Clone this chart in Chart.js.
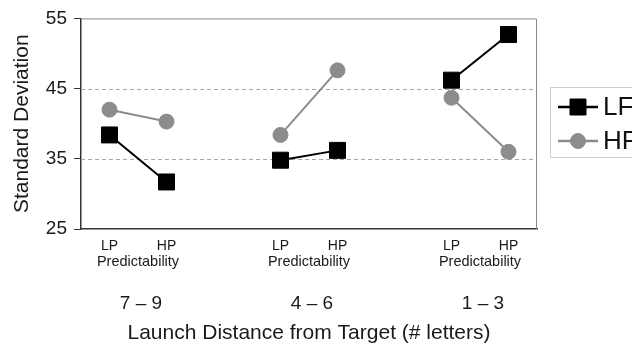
<!DOCTYPE html>
<html>
<head>
<meta charset="utf-8">
<script src="https://cdn.jsdelivr.net/npm/chart.js@4/dist/chart.umd.min.js"></script>
<style>
  html, body { margin: 0; padding: 0; background: #fff; }
  #wrap { width: 632px; height: 346px; }
</style>
</head>
<body>
<div id="wrap"><canvas id="c" width="632" height="346"></canvas></div>
<script>
// Standard deviation by launch distance, predictability and frequency.

const FONT = '"Liberation Sans", Arial, Helvetica, sans-serif';

const conditionPos = [1, 2, 4, 5, 7, 8];
const conditionLabels = ['LP', 'HP', 'LP', 'HP', 'LP', 'HP'];
const groupPos = [1.5, 4.5, 7.5];
const groupLabels = ['7 \u2013 9', '4 \u2013 6', '1 \u2013 3'];
const groupSubLabel = 'Predictability';
const lfValues = [38.4, 31.7, 34.8, 36.2, 46.2, 52.7];
const hfValues = [42.0, 40.3, 38.4, 47.6, 43.7, 36.0];
const yTicks = [25, 35, 45, 55];
const dashedGrid = [35, 45];

// pairs joined within a group, broken between groups
function pairs(vals) {
  const out = [];
  for (let i = 0; i < vals.length; i++) {
    if (i > 0 && i % 2 === 0) out.push({ x: (conditionPos[i - 1] + conditionPos[i]) / 2, y: null });
    out.push({ x: conditionPos[i], y: vals[i] });
  }
  return out;
}

const framePlugin = {
  id: 'frame',
  beforeDatasetsDraw(chart) {
    const { ctx, chartArea: a } = chart;
    const y = chart.scales.y;
    ctx.save();
    ctx.strokeStyle = '#a8a8a8';
    ctx.lineWidth = 1;
    ctx.setLineDash([4, 3]);
    for (const v of dashedGrid) {
      const py = Math.round(y.getPixelForValue(v)) + 0.5;
      ctx.beginPath(); ctx.moveTo(a.left, py); ctx.lineTo(a.right, py); ctx.stroke();
    }
    ctx.setLineDash([]);
    ctx.strokeStyle = '#8a8a8a';
    ctx.beginPath();
    ctx.moveTo(a.left, a.top + 0.5); ctx.lineTo(a.right - 0.5, a.top + 0.5);
    ctx.lineTo(a.right - 0.5, a.bottom);
    ctx.stroke();
    ctx.restore();
  },
  afterDraw(chart) {
    const { ctx } = chart;
    const x = chart.scales.x;
    ctx.save();
    ctx.fillStyle = '#1a1a1a';
    ctx.textAlign = 'center';
    ctx.textBaseline = 'middle';
    ctx.font = '14.5px ' + FONT;
    for (const g of groupPos) ctx.fillText(groupSubLabel, x.getPixelForValue(g), 262);
    ctx.font = '19px ' + FONT;
    groupPos.forEach((g, i) => ctx.fillText(groupLabels[i], x.getPixelForValue(g) + 3, 304));

    // legend
    ctx.strokeStyle = '#cfcfcf';
    ctx.lineWidth = 1;
    ctx.strokeRect(550.5, 87.5, 100, 70);
    const rows = [107, 141];
    chart.data.datasets.forEach((ds, i) => {
      const yy = rows[i];
      ctx.strokeStyle = ds.borderColor;
      ctx.lineWidth = 2.5;
      ctx.beginPath(); ctx.moveTo(558, yy); ctx.lineTo(598, yy); ctx.stroke();
      ctx.fillStyle = ds.pointBackgroundColor;
      ctx.strokeStyle = ds.pointBorderColor;
      ctx.lineWidth = 1;
      Chart.helpers.drawPoint(ctx, { pointStyle: ds.pointStyle, radius: ds.pointRadius, borderWidth: 1 }, 578, yy);
      ctx.fillStyle = '#111';
      ctx.font = '26px ' + FONT;
      ctx.textAlign = 'left';
      ctx.fillText(ds.label, 603, yy + 1);
    });
    ctx.restore();
  },
};

new Chart(document.getElementById('c'), {
  type: 'line',
  data: {
    datasets: [
      {
        label: 'LF', data: pairs(lfValues),
        borderColor: '#000', borderWidth: 2,
        pointStyle: 'rect', pointRadius: 11.3,
        pointBackgroundColor: '#000', pointBorderColor: '#000', pointBorderWidth: 1,
        spanGaps: false, tension: 0,
      },
      {
        label: 'HF', data: pairs(hfValues),
        borderColor: '#8c8c8c', borderWidth: 2,
        pointStyle: 'circle', pointRadius: 7.5,
        pointBackgroundColor: '#8c8c8c', pointBorderColor: '#8c8c8c', pointBorderWidth: 1,
        spanGaps: false, tension: 0,
      },
    ],
  },
  options: {
    responsive: false, animation: false,
    layout: { padding: { top: 17, right: 95, left: 0, bottom: 0 } },
    scales: {
      x: {
        type: 'linear', min: 0.5, max: 8.5,
        afterBuildTicks: (s) => { s.ticks = conditionPos.map(v => ({ value: v })); },
        afterFit: (s) => { s.height = 117; },
        ticks: {
          color: '#1a1a1a', font: { family: FONT, size: 14 }, padding: 9, maxRotation: 0,
          callback: (v) => { const i = conditionPos.indexOf(v); return i >= 0 ? conditionLabels[i] : ''; },
        },
        grid: { display: false, drawTicks: false },
        border: { display: true, color: '#333', width: 1.5 },
        title: { display: true, text: 'Launch Distance from Target (# letters)', color: '#1a1a1a',
                 font: { family: FONT, size: 21 }, padding: { top: 0, bottom: 0 } },
      },
      y: {
        min: 25, max: 55,
        afterBuildTicks: (s) => { s.ticks = yTicks.map(v => ({ value: v })); },
        afterFit: (s) => { s.width = 81; },
        ticks: { color: '#1a1a1a', font: { family: FONT, size: 19 }, padding: 7 },
        grid: { drawOnChartArea: false, drawTicks: true, tickLength: 7, tickColor: '#333', tickWidth: 1 },
        border: { display: true, color: '#333', width: 1.5 },
        title: { display: true, text: 'Standard Deviation', color: '#1a1a1a',
                 font: { family: FONT, size: 21 }, padding: { top: 10, bottom: 0 } },
      },
    },
    plugins: { legend: { display: false }, tooltip: { enabled: false } },
  },
  plugins: [framePlugin],
});
</script>
</body>
</html>
